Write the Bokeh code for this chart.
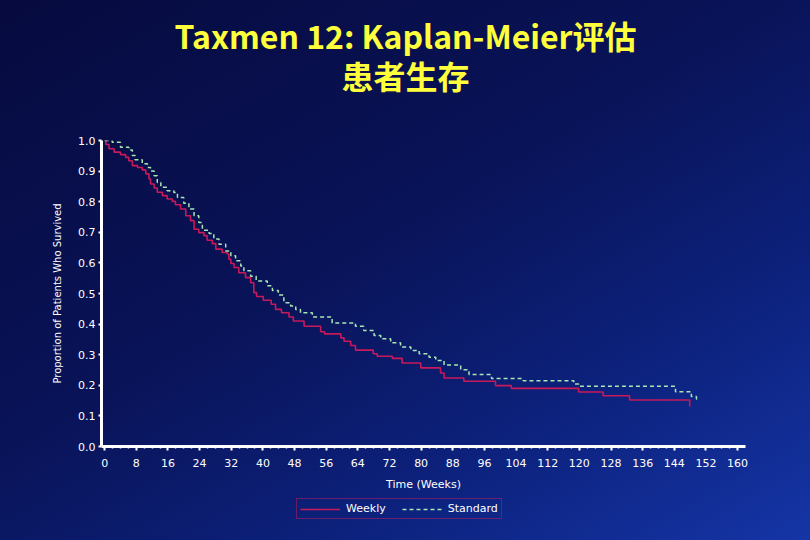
from bokeh.plotting import figure
from bokeh.layouts import column
from bokeh.models import Legend, LegendItem, FixedTicker, Range1d, Label
from bokeh.embed import file_html
from bokeh.resources import INLINE

# ---- data ----
weeks_weekly = [0, 0.3, 1.1, 2.4, 4.0, 5.3, 6.1, 7.0, 8.3, 9.5, 10.4, 11.2, 11.6, 12.5, 13.3,
                14.6, 15.8, 17.1, 17.9, 19.2, 20.5, 21.7, 22.6, 23.8, 25.1, 25.9, 27.2, 28.1,
                29.7, 31.0, 31.4, 31.9, 32.7, 33.9, 35.6, 36.9, 37.7, 38.4, 40.1, 42.1, 43.2,
                44.7, 46.6, 47.7, 50.4, 54.6, 55.6, 59.7, 60.5, 62.2, 63.4, 67.9, 68.9, 72.7,
                75.2, 79.9, 84.9, 85.8, 90.8, 98.8, 102.8, 119.8, 126.0, 132.7, 147.9]
surv_weekly = [1.0, 0.987, 0.973, 0.962, 0.954, 0.945, 0.934, 0.918, 0.912, 0.904, 0.891, 0.874,
               0.858, 0.845, 0.831, 0.82, 0.809, 0.801, 0.79, 0.776, 0.754, 0.738, 0.71, 0.699,
               0.689, 0.674, 0.663, 0.645, 0.634, 0.629, 0.612, 0.598, 0.585, 0.568, 0.552,
               0.535, 0.503, 0.49, 0.478, 0.465, 0.448, 0.437, 0.423, 0.41, 0.393, 0.375, 0.368,
               0.355, 0.344, 0.33, 0.315, 0.303, 0.295, 0.288, 0.273, 0.257, 0.24, 0.224, 0.213,
               0.199, 0.19, 0.178, 0.166, 0.152, 0.131]

weeks_standard = [0, 1.9, 4.0, 6.1, 7.0, 7.7, 9.5, 10.8, 11.6, 12.5, 13.3, 14.2, 15.8, 17.5,
                  18.4, 20.0, 21.3, 22.6, 23.8, 24.7, 26.4, 27.6, 28.9, 30.6, 31.9, 33.1, 34.4,
                  35.2, 36.9, 38.3, 41.1, 42.4, 43.9, 45.3, 47.0, 48.3, 49.5, 52.5, 57.5, 63.4,
                  65.5, 68.1, 69.8, 72.3, 74.8, 77.4, 79.5, 82.0, 83.7, 85.8, 90.0, 92.1, 97.8,
                  105.8, 118.6, 119.8, 144.3, 148.3, 149.6, 150.0]
surv_standard = [1.0, 0.994, 0.978, 0.969, 0.951, 0.937, 0.924, 0.912, 0.90, 0.885, 0.863, 0.847,
                 0.836, 0.83, 0.814, 0.795, 0.776, 0.754, 0.732, 0.707, 0.696, 0.678, 0.661,
                 0.639, 0.623, 0.607, 0.59, 0.574, 0.556, 0.541, 0.525, 0.51, 0.495, 0.47, 0.459,
                 0.448, 0.437, 0.423, 0.404, 0.393, 0.379, 0.363, 0.352, 0.339, 0.325, 0.314,
                 0.303, 0.292, 0.281, 0.266, 0.251, 0.235, 0.222, 0.215, 0.204, 0.197, 0.179,
                 0.163, 0.155, 0.155]

x_ticks = list(range(0, 161, 8))
x_tick_labels = [str(v) for v in x_ticks]
x_minor_ticks = list(range(0, 161, 2))
y_ticks = [0.0, 0.1, 0.2, 0.3, 0.4, 0.5, 0.6, 0.7, 0.8, 0.9, 1.0]
y_tick_labels = ["0.0", "0.1", "0.2", "0.3", "0.4", "0.5", "0.6", "0.7", "0.8", "0.9", "1.0"]

title_line1 = "Taxmen 12: Kaplan-Meier评估"
title_line2 = "患者生存"
x_label = "Time (Weeks)"
y_label = "Proportion of Patients Who Survived"
series_names = ["Weekly", "Standard"]

RED = "#c8195a"
GREEN = "#a8e6b4"
YELLOW = "#ffff3c"
FONT = "DejaVu Sans"
TFONT = "Noto Sans CJK SC"

W = 810
H_TITLE, H_MAIN, H_LEG = 130, 366, 44
FRAME_LEFT = 101  # column aligns every figure's frame with the main one


def bare(height):
    f = figure(width=W, height=height, output_backend="svg", toolbar_location=None,
               title=None, x_axis_type=None, y_axis_type=None,
               x_range=Range1d(0, 1), y_range=Range1d(0, 1), min_border=0)
    f.background_fill_color = None
    f.border_fill_color = None
    f.outline_line_color = None
    f.grid.visible = False
    return f


# ---- title block ----
pt = bare(H_TITLE)
for txt, y_from_top in ((title_line1, 34), (title_line2, 74)):
    pt.add_layout(Label(x=405 - FRAME_LEFT, y=H_TITLE - y_from_top, x_units="screen",
                        y_units="screen", text=txt, text_align="center",
                        text_baseline="middle", text_color=YELLOW, text_font=TFONT,
                        text_font_size="32px", text_font_style="bold"))

# ---- main chart ----
p = figure(width=W, height=H_MAIN, output_backend="svg", toolbar_location=None, title=None,
           x_range=Range1d(-0.8, 162), y_range=Range1d(0, 1.0),
           min_border_left=FRAME_LEFT, min_border_right=65, min_border_top=10,
           min_border_bottom=50)
p.background_fill_color = None
p.border_fill_color = None
p.outline_line_color = None
p.grid.visible = False

p.step(weeks_weekly, surv_weekly, mode="after", line_color=RED, line_width=1.6)
p.step(weeks_standard, surv_standard, mode="after", line_color=GREEN, line_width=1.5,
       line_dash="4 3")

xa = p.xaxis[0]
xa.ticker = FixedTicker(ticks=x_ticks, minor_ticks=x_minor_ticks)
xa.major_label_overrides = dict(zip(x_ticks, x_tick_labels))
ya = p.yaxis[0]
ya.ticker = FixedTicker(ticks=y_ticks, minor_ticks=[])
ya.major_label_overrides = dict(zip(y_ticks, y_tick_labels))

for ax in (xa, ya):
    ax.axis_line_color = "white"
    ax.axis_line_width = 3
    ax.major_tick_line_color = "white"
    ax.major_tick_line_width = 2
    ax.minor_tick_line_color = "white"
    ax.minor_tick_line_width = 1.5
    ax.major_tick_in = 0
    ax.minor_tick_in = 0
    ax.major_label_text_color = "white"
    ax.major_label_text_font = FONT
    ax.major_label_text_font_size = "11px"
    ax.axis_label_text_color = "white"
    ax.axis_label_text_font = FONT
    ax.axis_label_text_font_style = "normal"

xa.major_tick_out = 4
xa.minor_tick_out = 2
xa.major_label_standoff = 8
xa.axis_label = x_label
xa.axis_label_text_font_size = "11px"
xa.axis_label_standoff = 8

ya.major_tick_out = 3
ya.minor_tick_out = 0
ya.major_label_standoff = 3
ya.axis_label = y_label
ya.axis_label_text_font_size = "10px"
ya.axis_label_standoff = 12

# ---- legend block (hidden copies of the series supply the legend glyphs) ----
pl = bare(H_LEG)
lr_weekly = pl.step(weeks_weekly, surv_weekly, mode="after", line_color=RED, line_width=1.6,
                    visible=False)
lr_std = pl.step(weeks_standard, surv_standard, mode="after", line_color=GREEN, line_width=1.5,
                 line_dash="4 3", visible=False)
legend = Legend(items=[LegendItem(label=series_names[0], renderers=[lr_weekly]),
                       LegendItem(label=series_names[1], renderers=[lr_std])],
                location=(296 - FRAME_LEFT, 21), orientation="horizontal")
legend.border_line_color = RED
legend.border_line_width = 1.5
legend.background_fill_alpha = 0
legend.label_text_color = "white"
legend.label_text_font = FONT
legend.label_text_font_size = "11px"
legend.glyph_width = 40
legend.glyph_height = 12
legend.label_height = 12
legend.padding = 3
legend.spacing = 16
legend.label_standoff = 6
legend.margin = 0
pl.add_layout(legend, "center")

layout = column(pt, p, pl, spacing=0)

html = file_html(layout, INLINE)
html = html.replace(
    "</head>",
    "<style>html{min-height:100%;background:linear-gradient(150deg,#060a3e 0%,#091358 45%,"
    "#0d2380 75%,#1535a6 100%);}</style></head>", 1)
open("out.html", "w").write(html)
